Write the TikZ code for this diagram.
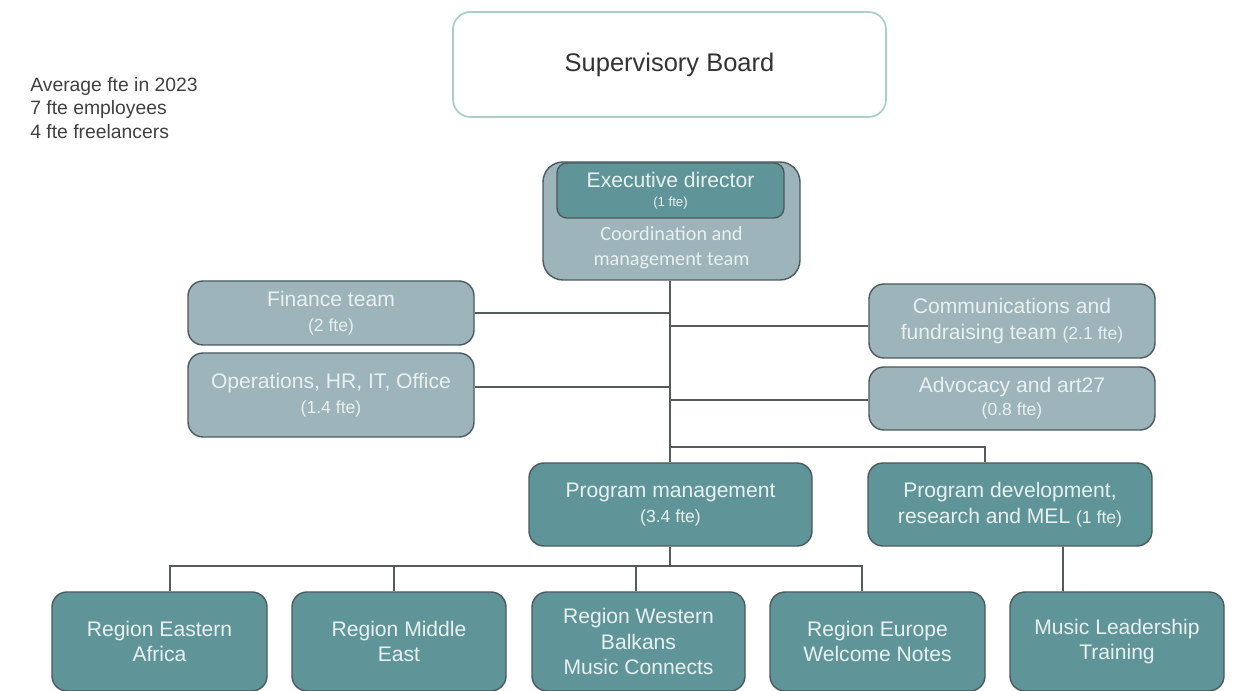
\documentclass[tikz,border=0pt]{standalone}
\usepackage{fontspec}
\setmainfont{Liberation Sans}
\newfontfamily\calibrifont{Carlito}
\begin{document}
\begin{tikzpicture}[
    box/.style={draw=clbd, line width=0.8pt, rounded corners=0.3cm, text=cltx, align=center, inner sep=0pt},
    dark/.style={box, fill=cl1},
    light/.style={box, fill=cl2},
    link/.style={draw=clln, line width=1.1pt}
  ]
            \definecolor{cl1}{HTML}{5F9598}
            \definecolor{cl2}{HTML}{9CB4BA}
            \definecolor{clbd}{HTML}{4A5A5E}
            \definecolor{cltx}{HTML}{E9F0F0}
            \definecolor{clln}{HTML}{555A5C}
            \definecolor{clbo}{HTML}{A9CFCB}
            \useasboundingbox (0,0) rectangle (24.8,13.8);
            % top
            \node[draw=clbo, line width=1pt, rounded corners=0.35cm, minimum width=8.66cm, minimum height=2.1cm, text=black!80, font=\fontsize{14.5}{17}\selectfont] (board) at (13.39,12.51) {Supervisory Board};
            \node[anchor=north west, align=left, text=black!75, font=\fontsize{11}{13.3}\selectfont, inner sep=0pt] (note) at (0.6,12.26) {Average fte in 2023\\7 fte employees\\4 fte freelancers};
            \node[light, rounded corners=0.4cm, minimum width=5.14cm, minimum height=2.36cm] (coord) at (13.43,9.38) {};
            \node[text=cltx, align=center, font=\calibrifont\fontsize{11.5}{14}\selectfont] (coordtext) at (13.43,8.84) {Coordination and\\management team};
            \node[dark, rounded corners=0.2cm, minimum width=4.54cm, minimum height=1.1cm, font=\fontsize{12}{13}\selectfont] (exec) at (13.41,9.99) {Executive director\\[-2pt]{\fontsize{7.5}{9}\selectfont (1 fte)}};
            % staff teams
            \node[light, minimum width=5.72cm, minimum height=1.28cm, font=\fontsize{12}{14}\selectfont] (finance) at (6.62,7.54) {Finance team\\{\fontsize{10}{12}\selectfont (2 fte)}};
            \node[light, minimum width=5.72cm, minimum height=1.68cm, font=\fontsize{12}{14}\selectfont] (ops) at (6.62,5.90) {Operations, HR, IT, Office\\{\fontsize{10}{12}\selectfont (1.4 fte)}};
            \node[light, minimum width=5.72cm, minimum height=1.48cm, font=\fontsize{12}{14.5}\selectfont] (comms) at (20.24,7.38) {Communications and\\fundraising team {\fontsize{10}{12}\selectfont (2.1 fte)}};
            \node[light, minimum width=5.72cm, minimum height=1.26cm, font=\fontsize{12}{13}\selectfont] (advocacy) at (20.24,5.83) {Advocacy and art27\\{\fontsize{10}{12}\selectfont (0.8 fte)}};
            % programs
            \node[dark, minimum width=5.66cm, minimum height=1.66cm, font=\fontsize{12}{14.5}\selectfont] (progman) at (13.41,3.71) {Program management\\{\fontsize{10}{12}\selectfont (3.4 fte)}};
            \node[dark, minimum width=5.68cm, minimum height=1.66cm, font=\fontsize{12}{14.5}\selectfont] (progdev) at (20.20,3.71) {Program development,\\research and MEL {\fontsize{10}{12}\selectfont (1 fte)}};
            % regions
            \node[dark, minimum width=4.3cm, minimum height=1.98cm, font=\fontsize{12}{14.7}\selectfont] (eastafrica) at (3.19,0.97) {Region Eastern\\Africa};
            \node[dark, minimum width=4.28cm, minimum height=1.98cm, font=\fontsize{12}{14.7}\selectfont] (middleeast) at (7.98,0.97) {Region Middle\\East};
            \node[dark, minimum width=4.26cm, minimum height=1.98cm, font=\fontsize{12}{14.7}\selectfont] (balkans) at (12.77,0.97) {Region Western\\Balkans\\Music Connects};
            \node[dark, minimum width=4.3cm, minimum height=1.98cm, font=\fontsize{12}{14.7}\selectfont] (europe) at (17.55,0.97) {Region Europe\\Welcome Notes};
            \node[dark, minimum width=4.28cm, minimum height=1.98cm, font=\fontsize{12}{14.7}\selectfont] (leadership) at (22.34,0.97) {Music Leadership\\Training};
            % connectors
            \coordinate (split) at (13.40,4.86);
            \coordinate (bus) at (13.40,2.48);
            \draw[link] (split |- coord.south) -- (split |- progman.north);
            \draw[link] (finance.east) -- (finance.east -| split);
            \draw[link] ([yshift=0.16cm]ops.east) -- ([yshift=0.16cm]ops.east -| split);
            \draw[link] ([yshift=-0.1cm]comms.west) -- ([yshift=-0.1cm]comms.west -| split);
            \draw[link] ([yshift=-0.03cm]advocacy.west) -- ([yshift=-0.03cm]advocacy.west -| split);
            \draw[link] (split) -| ([xshift=-0.5cm]progdev.north);
            \draw[link] (bus |- progman.south) -- (bus);
            \draw[link] ([xshift=0.21cm]eastafrica.north) |- (bus) -| ([xshift=-0.31cm]europe.north);
            \draw[link] ([xshift=-0.1cm]middleeast.north) -- ++(0,0.52);
            \draw[link] ([xshift=-0.05cm]balkans.north) -- ++(0,0.52);
            \draw[link] ([xshift=1.06cm]progdev.south) -- ([xshift=-1.08cm]leadership.north);
\end{tikzpicture}
\end{document}
